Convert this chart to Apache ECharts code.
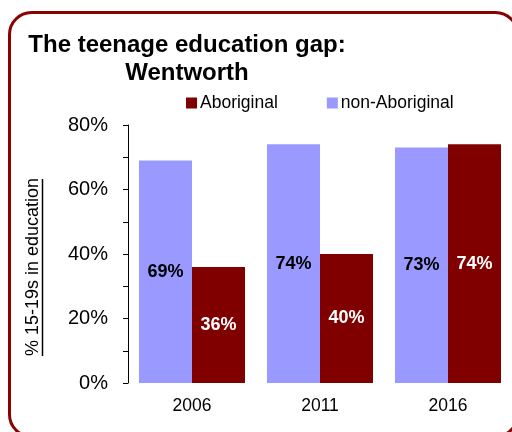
<!DOCTYPE html>
<html>
<head>
<meta charset="utf-8">
<script src="https://cdn.jsdelivr.net/npm/echarts@6/dist/echarts.min.js"></script>
<style>html,body{margin:0;padding:0;background:#fff}#c{width:512px;height:432px}</style>
</head>
<body>
<div id="c"></div>
<script>
var categories = ['2006', '2011', '2016'];
var aboriginal = [36, 40, 74];
var nonAboriginal = [69, 74, 73];
var seriesNames = ['Aboriginal', 'non-Aboriginal'];
var titleLines = ['The teenage education gap:', 'Wentworth'];
var yAxisName = '% 15-19s in education';

var chart = echarts.init(document.getElementById('c'), null, {renderer: 'canvas'});
var font = 'Liberation Sans, Arial, sans-serif';
chart.setOption({
  animation: false,
  backgroundColor: '#fff',
  textStyle: {fontFamily: font},
  graphic: [
    {type: 'rect', shape: {x: 9.5, y: 12.5, width: 508, height: 424, r: 22},
     style: {fill: 'none', stroke: '#8B0000', lineWidth: 3}, z: 0},
    {type: 'text', x: 187, y: 45.5, style: {text: titleLines[0], font: 'bold 24px ' + font, fill: '#000', textAlign: 'center', textVerticalAlign: 'middle'}},
    {type: 'text', x: 187, y: 73.5, style: {text: titleLines[1], font: 'bold 24px ' + font, fill: '#000', textAlign: 'center', textVerticalAlign: 'middle'}},
    {type: 'text', x: 33, y: 267, rotation: Math.PI / 2,
     style: {text: yAxisName, font: '18px ' + font, fill: '#000', textAlign: 'center', textVerticalAlign: 'middle'}},
    {type: 'line', shape: {x1: 42.5, y1: 179, x2: 42.5, y2: 356}, style: {stroke: '#000', lineWidth: 1.5}},
    {type: 'text', x: 295, y: 162, style: {text: '1', font: '5px ' + font, fill: '#334', textAlign: 'center', textVerticalAlign: 'middle'}}
  ],
  legend: {
    data: seriesNames,
    top: 94,
    left: 186,
    padding: 0,
    itemGap: 49,
    itemWidth: 11,
    itemHeight: 11,
    icon: 'rect',
    textStyle: {fontSize: 17.5, color: '#000', fontFamily: font, padding: [0, 0, 0, -2]}
  },
  grid: {left: 128, right: 0, top: 125, bottom: 49, containLabel: false},
  xAxis: {
    type: 'category',
    data: categories,
    axisLine: {show: false},
    axisTick: {show: false},
    axisLabel: {fontSize: 17.5, color: '#000', margin: 14, fontFamily: font}
  },
  yAxis: {
    type: 'value',
    min: 0, max: 80, interval: 10,
    axisLine: {show: true, lineStyle: {color: '#000', width: 1}},
    axisTick: {show: true, length: 5, lineStyle: {color: '#000'}},
    splitLine: {show: false},
    axisLabel: {fontSize: 20, color: '#000', margin: 20, fontFamily: font,
      formatter: function (v) { return v % 20 === 0 ? v + '%' : ''; }}
  },
  series: [
    {name: seriesNames[1], type: 'bar', data: nonAboriginal, barWidth: 53, barGap: '0%',
     itemStyle: {color: '#9999FF'},
     label: {show: true, position: 'inside', formatter: '{c}%', fontSize: 18, fontWeight: 'bold', color: '#000', fontFamily: font}},
    {name: seriesNames[0], type: 'bar', data: aboriginal, barWidth: 53, barGap: '0%',
     itemStyle: {color: '#800000'},
     label: {show: true, position: 'inside', formatter: '{c}%', fontSize: 18, fontWeight: 'bold', color: '#fff', fontFamily: font}}
  ]
});
</script>
</body>
</html>
